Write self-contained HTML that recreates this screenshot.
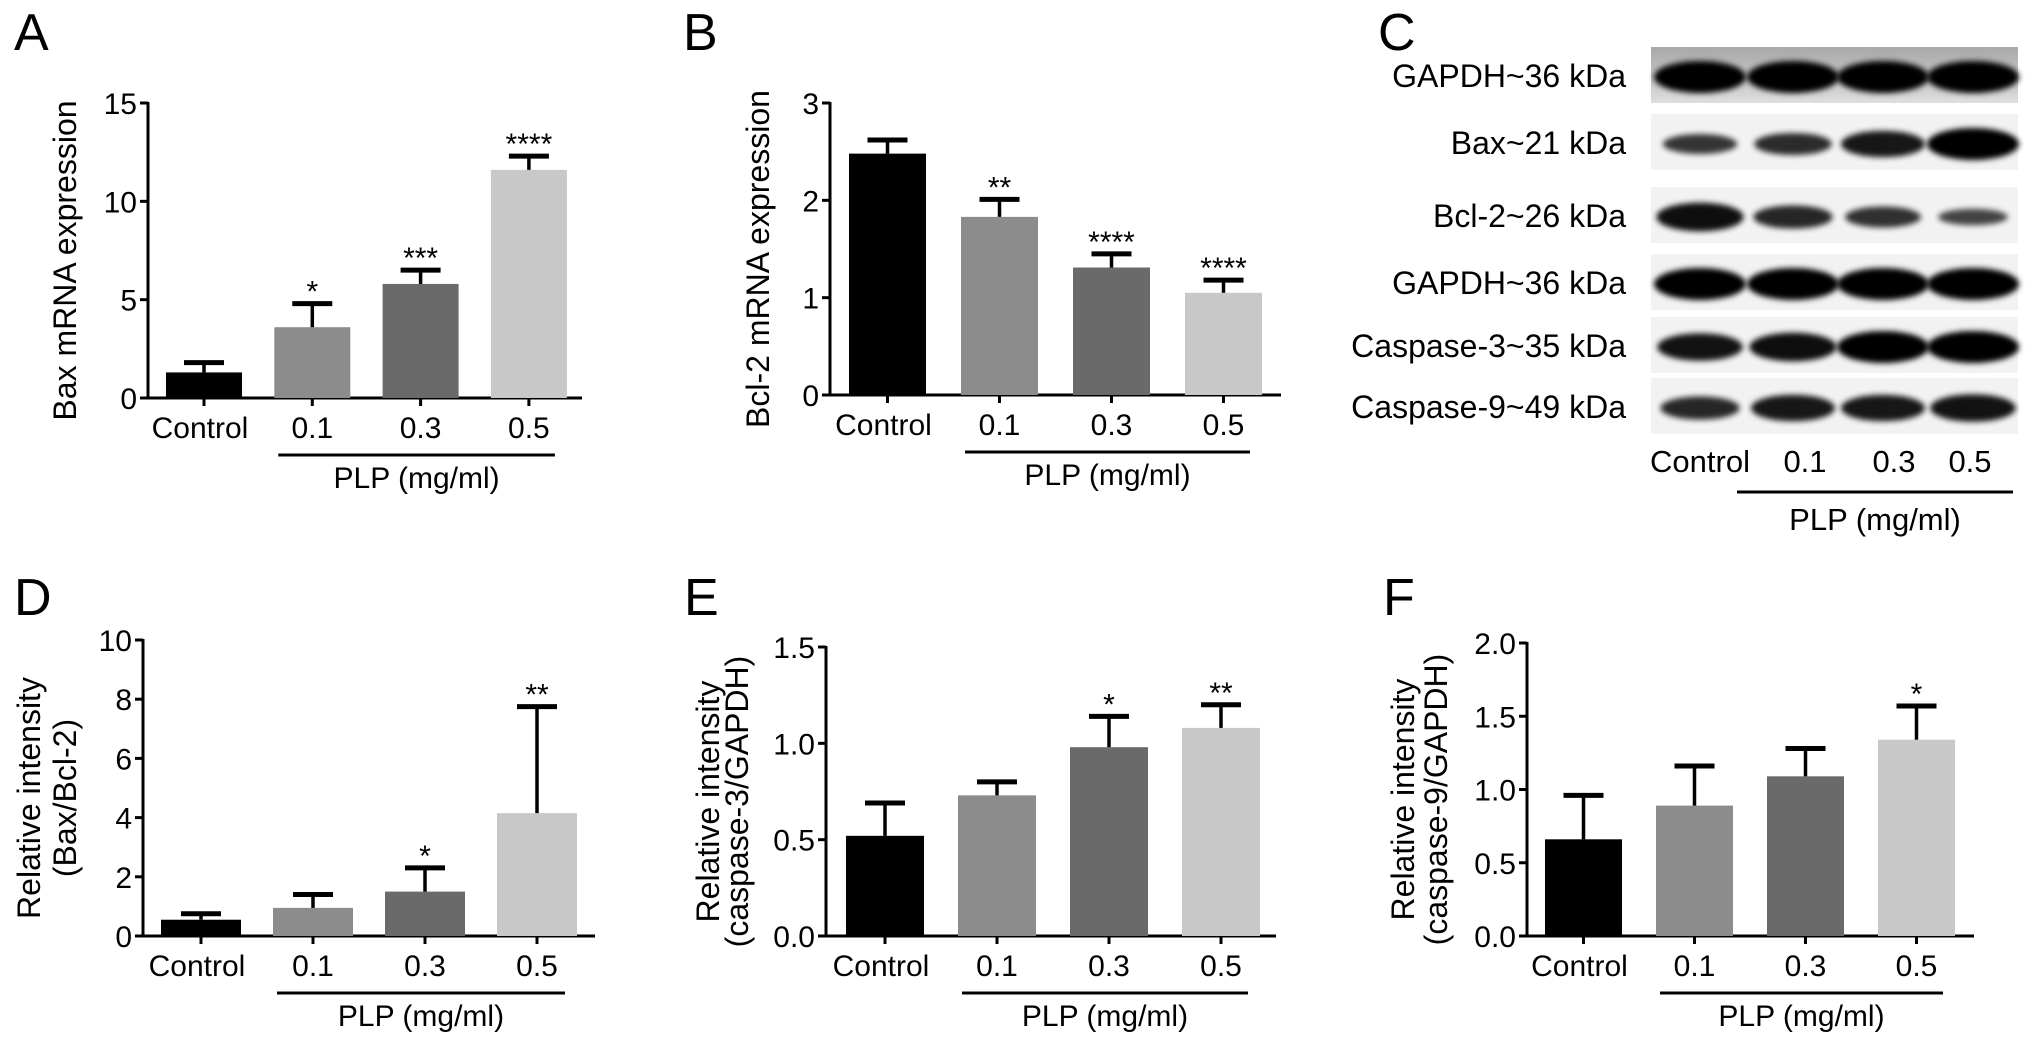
<!DOCTYPE html>
<html><head><meta charset="utf-8">
<style>
html,body{margin:0;padding:0;background:#fff;}
svg{display:block;font-family:"Liberation Sans",Arial,sans-serif;}
</style></head>
<body>
<svg id="fig" width="2032" height="1050" viewBox="0 0 2032 1050">
<defs>
<linearGradient id="topRow" x1="0" y1="0" x2="0" y2="1"><stop offset="0" stop-color="#a8a8a8"/><stop offset="1" stop-color="#dedede"/></linearGradient>
<filter id="blur" x="-20%" y="-50%" width="140%" height="200%"><feGaussianBlur stdDeviation="3"/></filter>
</defs>
<g id="blot"></g>
</svg>
<script>
// ---- data ----
const categories = ["Control","0.1","0.3","0.5"];
const colors = ["#000000","#8c8c8c","#6a6a6a","#c8c8c8"];

const aValues = [1.3, 3.6, 5.8, 11.6];
const aErrors = [0.5, 1.2, 0.7, 0.7];
const aStars = ["", "*", "***", "****"];
const aTicks = [0, 5, 10, 15];
const aTickLabels = ["0","5","10","15"];

const bValues = [2.48, 1.83, 1.31, 1.05];
const bErrors = [0.14, 0.18, 0.14, 0.13];
const bStars = ["", "**", "****", "****"];
const bTicks = [0, 1, 2, 3];
const bTickLabels = ["0","1","2","3"];

const dValues = [0.55, 0.95, 1.5, 4.15];
const dErrors = [0.2, 0.45, 0.8, 3.6];
const dStars = ["", "", "*", "**"];
const dTicks = [0, 2, 4, 6, 8, 10];
const dTickLabels = ["0","2","4","6","8","10"];

const eValues = [0.52, 0.73, 0.98, 1.08];
const eErrors = [0.17, 0.07, 0.16, 0.12];
const eStars = ["", "", "*", "**"];
const eTicks = [0, 0.5, 1.0, 1.5];
const eTickLabels = ["0.0","0.5","1.0","1.5"];

const fValues = [0.66, 0.89, 1.09, 1.34];
const fErrors = [0.3, 0.27, 0.19, 0.23];
const fStars = ["", "", "", "*"];
const fTicks = [0, 0.5, 1.0, 1.5, 2.0];
const fTickLabels = ["0.0","0.5","1.0","1.5","2.0"];

const blotRows = ["GAPDH~36 kDa","Bax~21 kDa","Bcl-2~26 kDa","GAPDH~36 kDa","Caspase-3~35 kDa","Caspase-9~49 kDa"];
// band intensity (0-1) per row per lane
const blotIntensity = [
  [1,1,1,1],[0.45,0.55,0.75,1],[0.85,0.6,0.5,0.3],[1,1,1,1],[0.8,0.85,1,1],[0.6,0.75,0.75,0.8]
];

const NS="http://www.w3.org/2000/svg";
const svg=document.getElementById('fig');
function mk(tag,attrs,parent){const e=document.createElementNS(NS,tag);for(const k in attrs)e.setAttribute(k,attrs[k]);(parent||svg).appendChild(e);return e;}
function txt(s,attrs,parent){const e=mk('text',attrs,parent);e.textContent=s;return e;}

function panel(cfg){
  const g=mk('g',{});
  
  
  const ymin=cfg.ticks[0], ymax=cfg.ticks[cfg.ticks.length-1];
  const yS=v=>cfg.y0-(v-ymin)/(ymax-ymin)*(cfg.y0-cfg.yTop);
  const L=txt(cfg.id.toUpperCase(),{x:cfg.letterX,y:cfg.letterY,'font-size':52},g);
  
  
  const ax=mk('line',{x1:cfg.axX,x2:cfg.axX,y1:cfg.yTop-1,y2:cfg.y0,stroke:'#000','stroke-width':3},g);
  
  
  const bl=mk('line',{x1:cfg.axX-1.5,x2:cfg.axEnd,y1:cfg.y0,y2:cfg.y0,stroke:'#000','stroke-width':3},g);
  
  
  cfg.ticks.forEach((t,i)=>{
    const y=yS(t);
    mk('line',{x1:cfg.axX-8,x2:cfg.axX,y1:y,y2:y,stroke:'#000','stroke-width':3},g);
    const tl=txt(cfg.tickLabels[i],{x:cfg.axX-11,y:y+11,'font-size':30,'text-anchor':'end'},g);
    
    
  });
  const step=cfg.step, bw=cfg.bw;
  cfg.values.forEach((v,i)=>{
    const x=cfg.first+i*step;
    const yt=yS(v), ye=yS(v+cfg.errors[i]);
    const r=mk('rect',{x:x,y:yt,width:bw,height:cfg.y0-yt,fill:colors[i]},g);
    
    
    const cx=x+bw/2;
    mk('line',{x1:cx,x2:cx,y1:yt,y2:ye,stroke:'#000','stroke-width':3.5},g);
    mk('line',{x1:cx-20,x2:cx+20,y1:ye,y2:ye,stroke:'#000','stroke-width':5},g);
    mk('line',{x1:cx,x2:cx,y1:cfg.y0,y2:cfg.y0+8,stroke:'#000','stroke-width':3},g);
    if(cfg.stars[i]){const s=txt(cfg.stars[i],{x:cx,y:ye-2,'font-size':30,'text-anchor':'middle'},g);
      
      }
    const cl=txt(categories[i],{x:cx+(i==0?-4:0),y:cfg.y0+40,'font-size':30,'text-anchor':'middle'},g);
    
    
  });
  const lx1=cfg.first+step+4, lx2=cfg.first+3*step+bw-12;
  mk('line',{x1:lx1,x2:lx2,y1:cfg.y0+57,y2:cfg.y0+57,stroke:'#000','stroke-width':3},g);
  const p=txt('PLP (mg/ml)',{x:(lx1+lx2)/2,y:cfg.y0+90,'font-size':30,'text-anchor':'middle'},g);
  
  
  const midY=(cfg.yTop+cfg.y0)/2+10;
  cfg.title.forEach((t,k)=>{
    const tx=cfg.titleX[k]+11;
    const tt=txt(t,{x:tx,y:midY,'font-size':32,'text-anchor':'middle',transform:`rotate(-90 ${tx} ${midY})`},g);
    
    
  });
}

panel({id:'a',letterX:14,letterY:50,axX:148,yTop:103,y0:398,axEnd:582,first:166,step:108.3,bw:76,values:aValues,errors:aErrors,stars:aStars,ticks:aTicks,tickLabels:aTickLabels,title:['Bax mRNA expression'],titleX:[65]});
panel({id:'b',letterX:683,letterY:50,axX:830,yTop:103,y0:395,axEnd:1281,first:849,step:112,bw:77,values:bValues,errors:bErrors,stars:bStars,ticks:bTicks,tickLabels:bTickLabels,title:['Bcl-2 mRNA expression'],titleX:[758]});
panel({id:'d',letterX:14,letterY:615,axX:143,yTop:640,y0:936,axEnd:595,first:161,step:112,bw:80,values:dValues,errors:dErrors,stars:dStars,ticks:dTicks,tickLabels:dTickLabels,title:['Relative intensity','(Bax/Bcl-2)'],titleX:[29,65]});
panel({id:'e',letterX:684,letterY:615,axX:826,yTop:647,y0:936,axEnd:1276,first:846,step:112,bw:78,values:eValues,errors:eErrors,stars:eStars,ticks:eTicks,tickLabels:eTickLabels,title:['Relative intensity','(caspase-3/GAPDH)'],titleX:[708,737]});
panel({id:'f',letterX:1383,letterY:615,axX:1527,yTop:643,y0:936,axEnd:1974,first:1545,step:111,bw:77,values:fValues,errors:fErrors,stars:fStars,ticks:fTicks,tickLabels:fTickLabels,title:['Relative intensity','(caspase-9/GAPDH)'],titleX:[1403,1436]});

// ---- blot panel C ----
const gb=document.getElementById('blot');
txt('C',{x:1378,y:50,'font-size':52},gb);
const rowY=[75,142,215,282,345,406];
const laneX=[1700,1793,1883,1973];
blotRows.forEach((name,r)=>{
  const y=rowY[r];
  const bg=mk('rect',{x:1651,y:y-28,width:367,height:56,fill: r==0?'url(#topRow)':'#f2f2f2'},gb);
  
  
  const lab=txt(name,{x:1626,y:y+12,'font-size':32,'text-anchor':'end'},gb);
  
  
  blotIntensity[r].forEach((v,l)=>{
    const e=mk('ellipse',{cx:laneX[l],cy:y+2,rx:30+16*v,ry:5+11*v,fill:'#000',opacity:0.6+0.4*v,filter:'url(#blur)'},gb);
    
    
  });
});
["Control","0.1","0.3","0.5"].forEach((c,i)=>{
  const t=txt(c,{x:[1700,1805,1894,1970][i],y:472,'font-size':31,'text-anchor':'middle'},gb);
  
  
});
mk('line',{x1:1737,x2:2013,y1:492,y2:492,stroke:'#000','stroke-width':3},gb);
const pl=txt('PLP (mg/ml)',{x:1875,y:530,'font-size':31,'text-anchor':'middle'},gb);


</script>
</body></html>
